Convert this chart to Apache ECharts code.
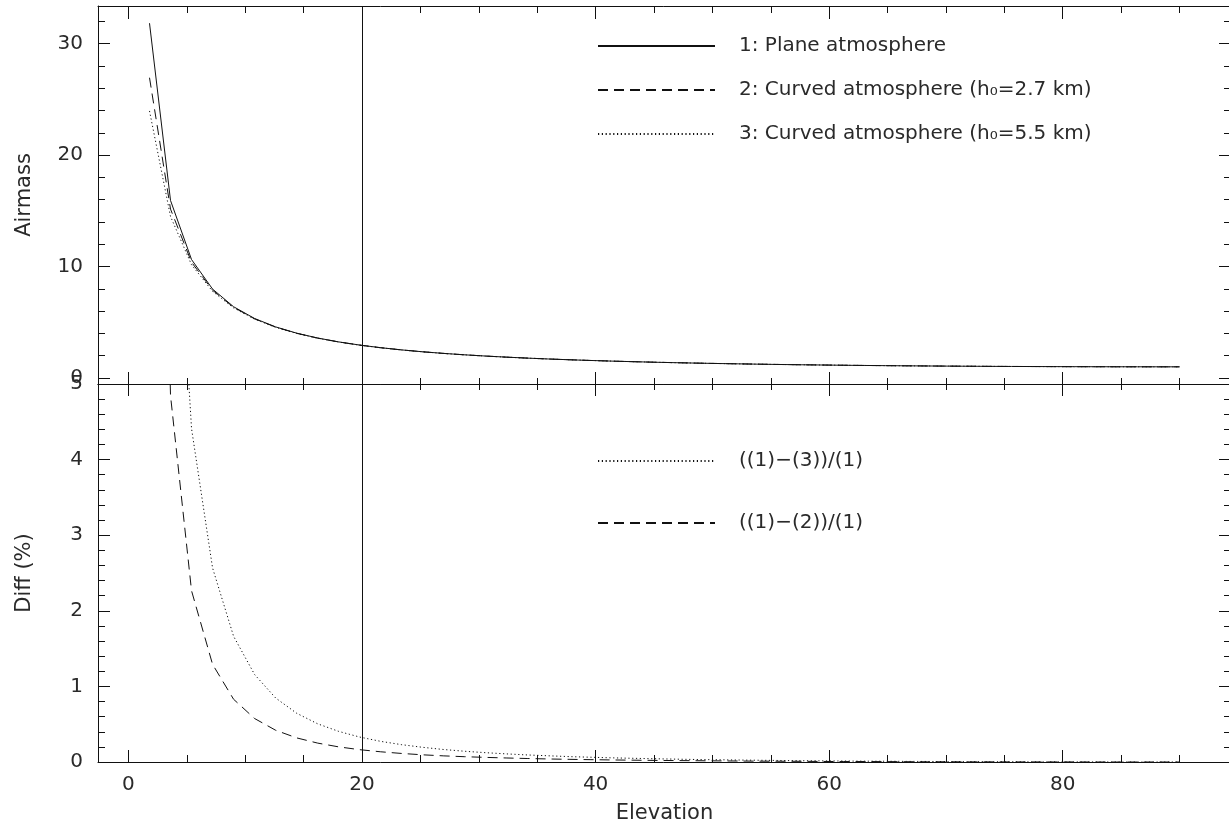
<!DOCTYPE html>
<html>
<head>
<meta charset="utf-8">
<script src="https://cdn.jsdelivr.net/npm/echarts@6/dist/echarts.min.js"></script>
<style>
html,body{margin:0;padding:0;background:#ffffff;}
#chart{width:1229px;height:824px;}
</style>
</head>
<body>
<div id="chart"></div>
<script>
// ---- Data ----
const elevation = [1.8, 3.6, 5.4, 7.2, 9.0, 10.8, 12.6, 14.4, 16.2, 18.0,
  19.8, 21.6, 23.4, 25.2, 27.0, 28.8, 30.6, 32.4, 34.2, 36.0,
  37.8, 39.6, 41.4, 43.2, 45.0, 46.8, 48.6, 50.4, 52.2, 54.0,
  55.8, 57.6, 59.4, 61.2, 63.0, 64.8, 66.6, 68.4, 70.2, 72.0,
  73.8, 75.6, 77.4, 79.2, 81.0, 82.8, 84.6, 86.4, 88.2, 90.0];

const airmassPlane = [31.836, 15.926, 10.626, 7.979, 6.392, 5.337, 4.584, 4.021, 3.584, 3.236,
  2.952, 2.716, 2.518, 2.349, 2.203, 2.076, 1.964, 1.866, 1.779, 1.701,
  1.632, 1.569, 1.512, 1.461, 1.414, 1.372, 1.333, 1.298, 1.266, 1.236,
  1.209, 1.184, 1.162, 1.141, 1.122, 1.105, 1.090, 1.076, 1.063, 1.051,
  1.041, 1.032, 1.025, 1.018, 1.012, 1.008, 1.004, 1.002, 1.000, 1.000];

const airmassCurved27 = [26.945, 15.154, 10.385, 7.876, 6.339, 5.306, 4.565, 4.008, 3.575, 3.230,
  2.947, 2.712, 2.515, 2.346, 2.201, 2.074, 1.963, 1.865, 1.778, 1.701,
  1.631, 1.568, 1.512, 1.460, 1.414, 1.372, 1.333, 1.298, 1.266, 1.236,
  1.209, 1.184, 1.162, 1.141, 1.122, 1.105, 1.090, 1.076, 1.063, 1.051,
  1.041, 1.032, 1.025, 1.018, 1.012, 1.008, 1.004, 1.002, 1.000, 1.000];

const airmassCurved55 = [23.961, 14.490, 10.157, 7.774, 6.286, 5.275, 4.545, 3.995, 3.566, 3.223,
  2.942, 2.709, 2.512, 2.344, 2.199, 2.073, 1.962, 1.864, 1.777, 1.700,
  1.630, 1.568, 1.511, 1.460, 1.414, 1.371, 1.333, 1.298, 1.266, 1.236,
  1.209, 1.184, 1.162, 1.141, 1.122, 1.105, 1.090, 1.076, 1.063, 1.051,
  1.041, 1.032, 1.025, 1.018, 1.012, 1.008, 1.004, 1.002, 1.000, 1.000];

const diff27 = [15.36, 4.846, 2.265, 1.292, 0.830, 0.575, 0.420, 0.319, 0.250, 0.200,
  0.163, 0.135, 0.113, 0.095, 0.081, 0.070, 0.061, 0.053, 0.046, 0.040,
  0.035, 0.031, 0.027, 0.024, 0.021, 0.019, 0.017, 0.015, 0.013, 0.011,
  0.010, 0.009, 0.007, 0.006, 0.006, 0.005, 0.004, 0.003, 0.003, 0.002,
  0.002, 0.001, 0.001, 0.001, 0.001, 0.000, 0.000, 0.000, 0.000, 0.000];

const diff55 = [24.74, 9.02, 4.41, 2.567, 1.663, 1.157, 0.847, 0.645, 0.505, 0.405,
  0.330, 0.273, 0.229, 0.194, 0.165, 0.142, 0.123, 0.107, 0.093, 0.082,
  0.071, 0.063, 0.055, 0.049, 0.043, 0.038, 0.033, 0.030, 0.026, 0.023,
  0.020, 0.017, 0.015, 0.013, 0.011, 0.010, 0.008, 0.007, 0.006, 0.005,
  0.004, 0.003, 0.002, 0.002, 0.001, 0.001, 0.000, 0.000, 0.000, 0.000];

const xTickLabels = [0, 20, 40, 60, 80];
const airmassTickLabels = [0, 10, 20, 30];
const diffTickLabels = [0, 1, 2, 3, 4, 5];
const markerElevation = 20;

const seriesNames = [
  '1: Plane atmosphere',
  '2: Curved atmosphere (h\u2080=2.7 km)',
  '3: Curved atmosphere (h\u2080=5.5 km)',
  '((1)\u2212(3))/(1)',
  '((1)\u2212(2))/(1)'
];
const xLabel = 'Elevation';
const yLabelTop = 'Airmass';
const yLabelBottom = 'Diff (%)';

// ---- Styling ----
const FONT = 'DejaVu Sans';
const INK = '#111';
const TXT = '#2a2a2a';
const xRange = [-2.61, 94.41];
const topRange = [-0.542, 33.38];
const bottomRange = [0, 5];

function pairs(ys) { return elevation.map((x, i) => [x, ys[i]]); }

function frameAxis(extra) {
  const base = {
    axisLine: { show: true, onZero: false, lineStyle: { color: INK, width: 1 } },
    axisTick: { show: true, inside: true, length: 12, lineStyle: { color: INK, width: 1 } },
    minorTick: { show: true, length: 7, lineStyle: { color: INK, width: 1 } },
    splitLine: { show: false },
    minorSplitLine: { show: false },
    axisLabel: { show: false },
    axisPointer: { show: false }
  };
  return Object.assign(base, extra);
}

function labelFmt(list) {
  return function (v) {
    for (const t of list) { if (Math.abs(v - t) < 1e-6) return String(t); }
    return '';
  };
}

const labelStyle = (list, margin) => ({
  show: true, fontFamily: FONT, fontSize: 20, color: TXT, margin: margin,
  showMinLabel: false, showMaxLabel: false, formatter: labelFmt(list)
});

const markLineX = {
  silent: true, symbol: ['none', 'none'], label: { show: false },
  lineStyle: { color: INK, width: 1, type: 'solid' },
  data: [{ xAxis: markerElevation }], animation: false
};

const legendCommon = {
  selectedMode: false, orient: 'vertical', left: 597, padding: 0,
  itemWidth: 117, itemHeight: 14,
  itemStyle: { opacity: 0, borderWidth: 0 },
  formatter: n => '{g| }' + n,
  textStyle: { fontFamily: FONT, fontSize: 20, color: TXT, lineHeight: 22, rich: { g: { width: 19 } } }
};

const option = {
  animation: false,
  backgroundColor: '#ffffff',
  textStyle: { fontFamily: FONT },
  grid: [
    { left: 98, top: 6, width: 1133, height: 378, containLabel: false, outerBoundsMode: 'none' },
    { left: 98, top: 384, width: 1133, height: 378, containLabel: false, outerBoundsMode: 'none' }
  ],
  xAxis: [
    frameAxis({ type: 'value', gridIndex: 0, position: 'bottom', min: xRange[0], max: xRange[1], minorTick: { show: true, splitNumber: 4, length: 6, lineStyle: { color: INK } }, axisTick: { show: true, inside: true, length: 12, lineStyle: { color: INK } } }),
    frameAxis({ type: 'value', gridIndex: 0, position: 'top', min: xRange[0], max: xRange[1], minorTick: { show: true, splitNumber: 4, length: 7, lineStyle: { color: INK } }, axisTick: { show: true, inside: true, length: 13, lineStyle: { color: INK } } }),
    frameAxis({ type: 'value', gridIndex: 1, position: 'bottom', min: xRange[0], max: xRange[1],
      minorTick: { show: true, splitNumber: 4, length: 7, lineStyle: { color: INK } },
      axisLabel: labelStyle(xTickLabels, 13),
      name: xLabel, nameLocation: 'middle', nameGap: 41,
      nameTextStyle: { fontFamily: FONT, fontSize: 21, color: TXT } }),
    frameAxis({ type: 'value', gridIndex: 1, position: 'top', min: xRange[0], max: xRange[1], minorTick: { show: true, splitNumber: 4, length: 6, lineStyle: { color: INK } }, axisTick: { show: true, inside: true, length: 12, lineStyle: { color: INK } } })
  ],
  yAxis: [
    frameAxis({ type: 'value', gridIndex: 0, position: 'left', min: topRange[0], max: topRange[1], splitNumber: 3,
      minorTick: { show: true, splitNumber: 5, length: 7, lineStyle: { color: INK } },
      axisLabel: labelStyle(airmassTickLabels, 15),
      name: yLabelTop, nameLocation: 'middle', nameGap: 63, nameRotate: 90,
      nameTextStyle: { fontFamily: FONT, fontSize: 21, color: TXT } }),
    frameAxis({ type: 'value', gridIndex: 0, position: 'right', min: topRange[0], max: topRange[1], splitNumber: 3,
      minorTick: { show: true, splitNumber: 5, length: 7, lineStyle: { color: INK } } }),
    frameAxis({ type: 'value', gridIndex: 1, position: 'left', min: bottomRange[0], max: bottomRange[1], interval: 1,
      minorTick: { show: true, splitNumber: 5, length: 7, lineStyle: { color: INK } },
      axisLabel: Object.assign(labelStyle(diffTickLabels, 15), { showMinLabel: true, showMaxLabel: true }),
      name: yLabelBottom, nameLocation: 'middle', nameGap: 63, nameRotate: 90,
      nameTextStyle: { fontFamily: FONT, fontSize: 21, color: TXT } }),
    frameAxis({ type: 'value', gridIndex: 1, position: 'right', min: bottomRange[0], max: bottomRange[1], interval: 1,
      minorTick: { show: true, splitNumber: 5, length: 7, lineStyle: { color: INK } } })
  ],
  legend: [
    Object.assign({}, legendCommon, {
      top: 35, itemGap: 22,
      data: [seriesNames[0], seriesNames[1], seriesNames[2]]
    }),
    Object.assign({}, legendCommon, {
      top: 450, itemGap: 40,
      data: [seriesNames[3], seriesNames[4]]
    })
  ],
  series: [
    { name: seriesNames[0], type: 'line', xAxisIndex: 0, yAxisIndex: 0, data: pairs(airmassPlane),
      symbol: 'none', clip: true, itemStyle: { color: INK },
      lineStyle: { color: INK, width: 1, type: 'solid' }, markLine: markLineX },
    { name: seriesNames[1], type: 'line', xAxisIndex: 0, yAxisIndex: 0, data: pairs(airmassCurved27),
      symbol: 'none', clip: true, itemStyle: { color: INK },
      lineStyle: { color: INK, width: 1, type: [10, 6] } },
    { name: seriesNames[2], type: 'line', xAxisIndex: 0, yAxisIndex: 0, data: pairs(airmassCurved55),
      symbol: 'none', clip: true, itemStyle: { color: INK },
      lineStyle: { color: INK, width: 1, type: [1.2, 2.6] } },
    { name: seriesNames[3], type: 'line', xAxisIndex: 2, yAxisIndex: 2, data: pairs(diff55),
      symbol: 'none', clip: true, itemStyle: { color: INK },
      lineStyle: { color: INK, width: 1, type: [1.2, 2.6] }, markLine: markLineX },
    { name: seriesNames[4], type: 'line', xAxisIndex: 2, yAxisIndex: 2, data: pairs(diff27),
      symbol: 'none', clip: true, itemStyle: { color: INK },
      lineStyle: { color: INK, width: 1, type: [10, 6] } }
  ]
};

const chart = echarts.init(document.getElementById('chart'), null, { renderer: 'canvas' });
chart.setOption(option);
</script>
</body>
</html>
